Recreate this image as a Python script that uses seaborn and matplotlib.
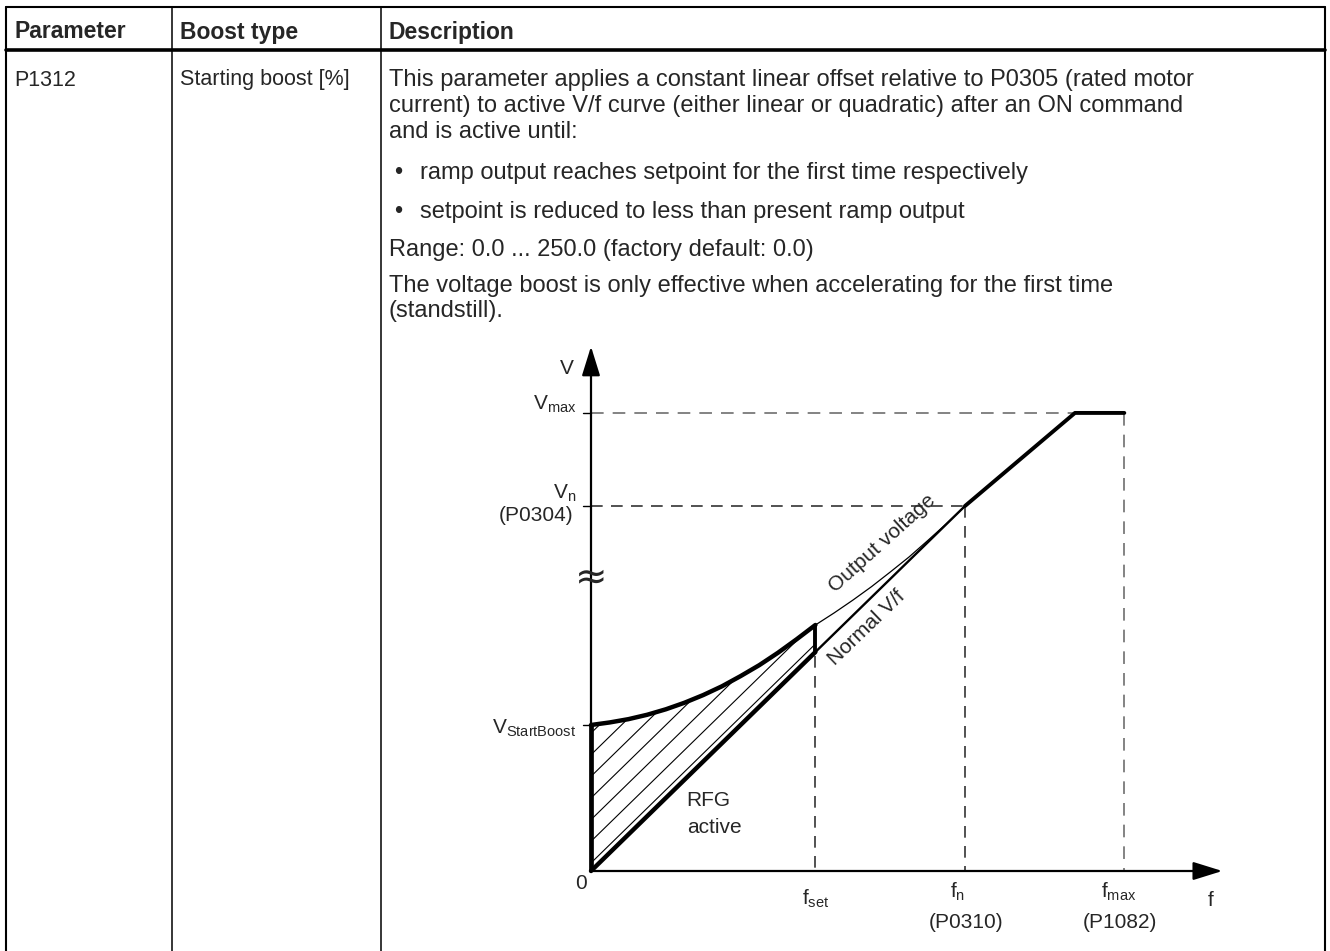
import matplotlib
matplotlib.use("Agg")
import numpy as np
import matplotlib.pyplot as plt
from matplotlib.patches import Polygon
import seaborn as sns

# ---- table text ----
header_cols = ["Parameter", "Boost type", "Description"]
param_name = "P1312"
boost_type = "Starting boost [%]"
desc_lines = [
    "This parameter applies a constant linear offset relative to P0305 (rated motor",
    "current) to active V/f curve (either linear or quadratic) after an ON command",
    "and is active until:",
]
bullet_lines = [
    "ramp output reaches setpoint for the first time respectively",
    "setpoint is reduced to less than present ramp output",
]
range_line = "Range: 0.0 ... 250.0 (factory default: 0.0)"
note_lines = [
    "The voltage boost is only effective when accelerating for the first time",
    "(standstill).",
]

# ---- V/f diagram values (f in arbitrary units, V in % of Vn) ----
f_set = 30.0
f_n = 50.0
f_knee = 64.7
f_max = 71.3
v_n = 100.0
v_max = 125.5
v_boost = 40.0
v_at_fset = 60.0

normal_f = [0.0, f_set]
normal_v = [0.0, v_at_fset]
normal_mid_f = [f_set, f_n]
normal_mid_v = [v_at_fset, v_n]
upper_f = [f_n, f_knee, f_max]
upper_v = [v_n, v_max, v_max]

# starting boost curve
boost_f = [0.0, 2.5, 5.0, 7.5, 10.0, 12.5, 15.0, 17.5, 20.0, 22.5, 25.0, 27.5, 30.0]
boost_v = [40.0, 40.7, 41.6, 42.8, 44.3, 46.1, 48.2, 50.6, 53.4, 56.4, 59.8, 63.5, 67.4]

# thin output-voltage curve from f_set up to f_n
out_f = [30.0, 32.5, 35.0, 37.5, 40.0, 42.5, 45.0, 47.5, 50.0]
out_v = [67.4, 70.7, 74.2, 77.9, 81.9, 86.0, 90.5, 95.1, 100.0]

# ---- layout (pixels) ----
W, H = 1330, 951
ORIGIN = (591, 871)
PX_F = 7.48
PX_V = 3.65
F_LIM = (-12, 90)
V_LIM = (-20, 150)

sns.set_style("white")
plt.rcParams["font.family"] = ["Liberation Sans", "DejaVu Sans"]
plt.rcParams["mathtext.fontset"] = "custom"
plt.rcParams["mathtext.rm"] = "Liberation Sans"
plt.rcParams["mathtext.default"] = "regular"

fig = plt.figure(figsize=(W / 100, H / 100), dpi=100)

# overlay for the table, pixel coordinates
tab = fig.add_axes([0, 0, 1, 1])
tab.set_xlim(0, W)
tab.set_ylim(H, 0)
tab.axis("off")

left, right, top = 6, 1325, 7
col1, col2 = 172, 381
head_y = 49.5
tab.plot([left, right], [top, top], color="black", lw=1.5)
tab.plot([left, left], [top, H + 5], color="black", lw=1.5)
tab.plot([right, right], [top, H + 5], color="black", lw=1.5)
tab.plot([col1, col1], [top, H + 5], color="black", lw=1.1)
tab.plot([col2, col2], [top, H + 5], color="black", lw=1.1)
tab.plot([left, right], [head_y, head_y], color="black", lw=2.6)

HS = 16.5    # header
CS1 = 15.5   # first two columns
DS = 17      # description column
for x, label in zip([14, 180, 389], header_cols):
    tab.text(x, 32, label, fontsize=HS, fontweight="bold", va="center", ha="left")
tab.text(14, 80, param_name, fontsize=CS1, va="center")
tab.text(180, 80, boost_type, fontsize=CS1, va="center")
for i, line in enumerate(desc_lines):
    tab.text(389, 80 + i * 26, line, fontsize=DS, va="center")
for y, line in zip([173, 212], bullet_lines):
    tab.text(394, y, "\u2022", fontsize=DS, va="center")
    tab.text(420, y, line, fontsize=DS, va="center")
tab.text(389, 250, range_line, fontsize=DS, va="center")
for i, line in enumerate(note_lines):
    tab.text(389, 286 + i * 25, line, fontsize=DS, va="center")

# chart axes placed so that the data origin lands on ORIGIN
ax_left = ORIGIN[0] + F_LIM[0] * PX_F
ax_w = (F_LIM[1] - F_LIM[0]) * PX_F
ax_bottom = ORIGIN[1] - V_LIM[0] * PX_V
ax_h = (V_LIM[1] - V_LIM[0]) * PX_V
ax = fig.add_axes([ax_left / W, (H - ax_bottom) / H, ax_w / W, ax_h / H])
ax.set_xlim(*F_LIM)
ax.set_ylim(*V_LIM)
ax.axis("off")
ax.patch.set_alpha(0)

# axes with arrow heads
arrow = dict(arrowstyle="-|>,head_length=0.9,head_width=0.28", lw=1.6,
             color="black", mutation_scale=20, shrinkA=0, shrinkB=0)
ax.annotate("", xy=(0, 143.7), xytext=(0, 0), arrowprops=arrow)
ax.annotate("", xy=(84.4, 0), xytext=(0, 0), arrowprops=arrow)

# helper dashed lines
dash = (0, (7, 5))
ax.plot([0, f_max], [v_max, v_max], color="#7a7a7a", lw=1.3, ls=dash)
ax.plot([f_max, f_max], [v_max, 0], color="#7a7a7a", lw=1.3, ls=dash)
ax.plot([0, f_n], [v_n, v_n], color="#333333", lw=1.2, ls=dash)
ax.plot([f_n, f_n], [v_n, 0], color="#333333", lw=1.2, ls=dash)
ax.plot([f_set, f_set], [v_at_fset - 1, 0], color="#333333", lw=1.2, ls=dash)

# hatched boost area: thin lines parallel to the ramp, clipped to the region
region = Polygon(np.column_stack([boost_f + [f_set, 0.0], boost_v + [v_at_fset, 0.0]]),
                 closed=True, facecolor="none", edgecolor="none")
ax.add_patch(region)
ramp_slope = v_at_fset / f_set
hatch_f = np.array([0.0, f_set])
for c in np.arange(2.2, v_boost, 5.93):
    ln, = ax.plot(hatch_f, ramp_slope * hatch_f + c, color="black", lw=0.8)
    ln.set_clip_path(region)

# curves
sns.lineplot(x=out_f, y=out_v, ax=ax, color="black", lw=0.9, estimator=None, sort=False)
sns.lineplot(x=normal_mid_f, y=normal_mid_v, ax=ax, color="black", lw=1.7, estimator=None, sort=False)
sns.lineplot(x=upper_f, y=upper_v, ax=ax, color="black", lw=2.8, estimator=None, sort=False)
sns.lineplot(x=normal_f, y=normal_v, ax=ax, color="black", lw=3.2, estimator=None, sort=False)
sns.lineplot(x=boost_f, y=boost_v, ax=ax, color="black", lw=3.2, estimator=None, sort=False)
ax.plot([0, 0], [0, v_boost], color="black", lw=3.4, solid_capstyle="butt")
ax.plot([f_set, f_set], [v_at_fset, boost_v[-1]], color="black", lw=2.8, solid_capstyle="butt")

# ticks on the V axis
for v in [v_max, v_n, v_boost]:
    ax.plot([-1.1, 0], [v, v], color="black", lw=1.0)

# axis break symbol
ax.text(0, 80.5, "\u2248", fontsize=28, ha="center", va="center", family="DejaVu Sans")

# labels
CS = 15
ax.text(-2.3, 137.8, "V", fontsize=CS, ha="right", va="center")
ax.text(-1.9, v_max + 0.8, "V$_{max}$", fontsize=CS, ha="right", va="baseline")
ax.text(-1.9, v_n + 2.0, "V$_{n}$", fontsize=CS, ha="right", va="baseline")
ax.text(-2.4, 97.3, "(P0304)", fontsize=CS, ha="right", va="center")
ax.text(-2.0, v_boost - 0.8, "V$_{StartBoost}$", fontsize=CS, ha="right", va="center")
ax.text(-1.3, -3.3, "0", fontsize=CS, ha="center", va="center")
ax.text(f_set, -4.5, "f$_{set}$", fontsize=CS, ha="center", va="top")
ax.text(f_n - 1.0, -2.7, "f$_{n}$", fontsize=CS, ha="center", va="top")
ax.text(f_n + 0.1, -11.5, "(P0310)", fontsize=CS, ha="center", va="top")
ax.text(f_max - 0.8, -2.7, "f$_{max}$", fontsize=CS, ha="center", va="top")
ax.text(f_max - 0.6, -11.5, "(P1082)", fontsize=CS, ha="center", va="top")
ax.text(82.8, -8.0, "f", fontsize=CS, ha="center", va="center")
ax.text(12.8, 19.2, "RFG", fontsize=CS, ha="left", va="center")
ax.text(12.8, 11.8, "active", fontsize=CS, ha="left", va="center")
ax.text(39.0, 89.8, "Output voltage", fontsize=CS, ha="center", va="center",
        rotation=42, rotation_mode="anchor")
ax.text(36.9, 66.5, "Normal V/f", fontsize=CS, ha="center", va="center",
        rotation=44, rotation_mode="anchor")

fig.savefig("out.png", dpi=100)
